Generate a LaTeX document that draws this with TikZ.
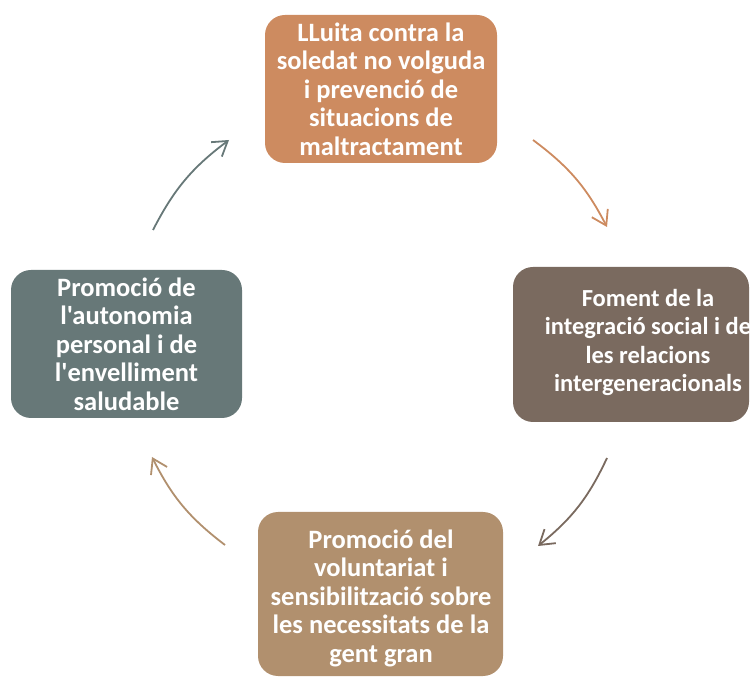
\documentclass[tikz,border=0pt]{standalone}
\usepackage{fontspec}
\setmainfont{Carlito}[Ligatures=TeXOff]
\usetikzlibrary{arrows.meta}
\definecolor{cTop}{RGB}{205,139,96}
\definecolor{cRight}{RGB}{122,106,95}
\definecolor{cBottom}{RGB}{177,144,110}
\definecolor{cLeft}{RGB}{103,120,120}
\tikzset{
  box/.style={rounded corners=20pt, inner sep=0pt, draw=none},
  txt/.style={text=white, align=center, inner sep=0pt,
    font=\bfseries\fontsize{26.5}{28.5}\selectfont},
  cyc/.style={line width=1.8pt, bend left=13,
    -{Straight Barb[length=14pt,width=18pt,line width=1.8pt]}}
}
\begin{document}
\begin{tikzpicture}[x=1pt,y=1pt]
\useasboundingbox (0,0) rectangle (750,678);
% boxes
\node[box, fill=cTop, minimum width=232pt, minimum height=148pt] (top) at (381,589) {};
\node[box, fill=cRight, minimum width=236pt, minimum height=155pt] (right) at (631,333.5) {};
\node[box, fill=cBottom, minimum width=245pt, minimum height=164pt] (bottom) at (380.5,84) {};
\node[box, fill=cLeft, minimum width=231pt, minimum height=148pt] (left) at (126.5,334) {};
% texts
\node[txt] (ttop) at (381,589) {LLuita contra la\\soledat no volguda\\i prevenció de\\situacions de\\maltractament};
\node[txt, font=\bfseries\fontsize{24.5}{28.5}\selectfont] (tright) at (648,335.5) {Foment de la\\integració social i de\\les relacions\\intergeneracionals};
\node[txt] (tbottom) at (381,80) {Promoció del\\voluntariat i\\sensibilització sobre\\les necessitats de la\\gent gran};
\node[txt] (tleft) at (126.5,334) {Promoció de\\l'autonomia\\personal i de\\l'envelliment\\saludable};
% arrow ends
\coordinate (a1s) at (533,538);
\coordinate (a1e) at (607,451);
\coordinate (a2s) at (607,220);
\coordinate (a2e) at (538,132);
\coordinate (a3s) at (225,133);
\coordinate (a3e) at (152,221);
\coordinate (a4s) at (153,448);
\coordinate (a4e) at (229,538);
\draw[cyc, draw=cTop] (a1s) to (a1e);
\draw[cyc, draw=cRight] (a2s) to (a2e);
\draw[cyc, draw=cBottom] (a3s) to (a3e);
\draw[cyc, draw=cLeft] (a4s) to (a4e);
\end{tikzpicture}
\end{document}
